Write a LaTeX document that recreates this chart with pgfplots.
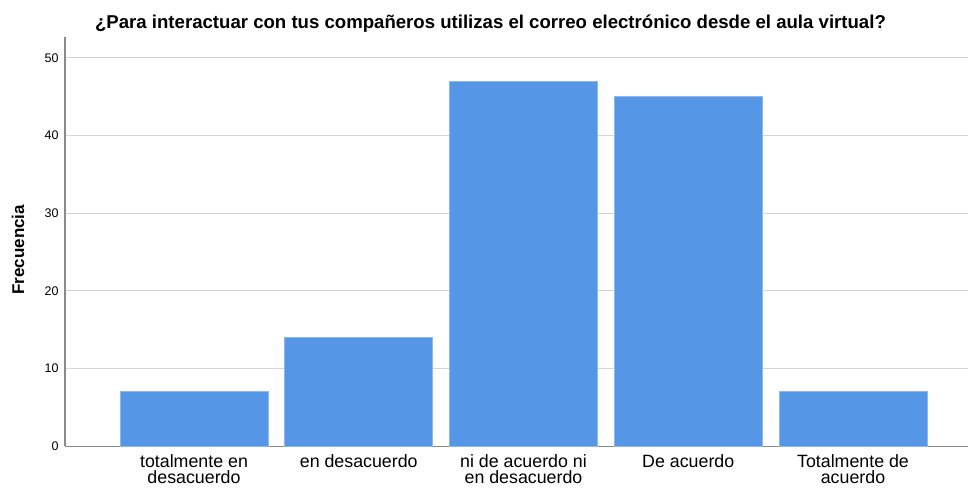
\documentclass[border=0pt]{standalone}
\usepackage{pgfplots}
\pgfplotsset{compat=1.18}
\usepackage{fontspec}
\setmainfont{Liberation Sans}
\definecolor{barfill}{HTML}{5596E6}
\definecolor{baredge}{HTML}{8DB8EE}
\definecolor{axgray}{HTML}{8A8A8A}
\definecolor{gridgray}{HTML}{D4D4D4}
\begin{document}
\begin{tikzpicture}
\path[use as bounding box] (-65pt,-41pt) rectangle (906pt,446pt);
\begin{axis}[
  scale only axis,
  width=903pt, height=409pt,
  xmin=-0.783, xmax=4.698,
  ymin=0, ymax=52.7,
  axis x line*=bottom, axis y line*=left,
  axis line style={axgray, line width=1pt},
  x axis line style={-}, y axis line style={-},
  ytick={0,10,20,30,40,50},
  ymajorgrids, grid style={gridgray, line width=1pt},
  major tick length=0pt,
  xtick={0,1,2,3,4},
  xticklabels={totalmente en\\desacuerdo, en desacuerdo, ni de acuerdo ni\\en desacuerdo, De acuerdo, Totalmente de\\acuerdo},
  xticklabel style={align=center, font=\fontsize{17.8}{16.8}\selectfont, anchor=north, yshift=-7pt, inner sep=1pt},
  yticklabel style={font=\fontsize{12.5}{14}\selectfont, xshift=-3pt},
  /pgf/number format/assume math mode=true,
  ylabel={\textbf{Frecuencia}},
  ylabel style={font=\fontsize{17}{18}\selectfont, at={(rel axis cs:0,0.48)}, anchor=center, yshift=47pt},
  title={\textbf{¿Para interactuar con tus compañeros utilizas el correo electrónico desde el aula virtual?}},
  title style={font=\fontsize{18.6}{20}\selectfont, at={(rel axis cs:0.4712,1)}, anchor=base, yshift=2pt},
  clip=false,
]
\addplot[ybar, bar width=148pt, fill=barfill, draw=baredge, line width=0.8pt] coordinates {(0,7) (1,14) (2,47) (3,45) (4,7)};
\end{axis}
\end{tikzpicture}
\end{document}
